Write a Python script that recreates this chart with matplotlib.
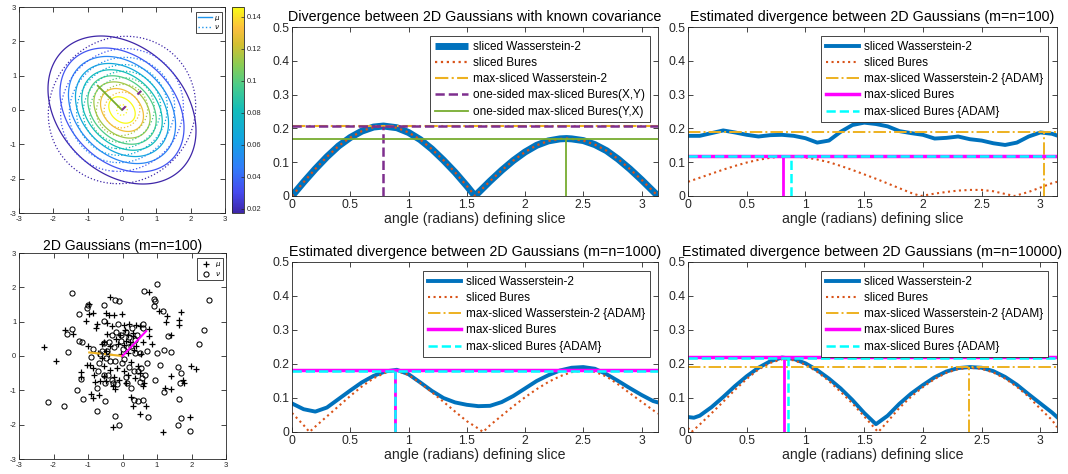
import numpy as np
import matplotlib
matplotlib.use("Agg")
import matplotlib.pyplot as plt
from matplotlib.colors import LinearSegmentedColormap, Normalize
from matplotlib.lines import Line2D
from matplotlib.ticker import FuncFormatter

plt.rcParams['font.family'] = ['Liberation Sans', 'DejaVu Sans']
plt.rcParams['axes.unicode_minus'] = False

PI = np.pi

# ---------------- data ----------------
# known covariance panel
theta_k = [0, 0.1, 0.2, 0.3, 0.4, 0.5, 0.6, 0.7, 0.785, 0.9, 1.0, 1.1, 1.2, 1.3, 1.4, 1.5, 1.571,
           1.6, 1.7, 1.8, 1.9, 2.0, 2.1, 2.2, 2.3, 2.356, 2.4, 2.5, 2.6, 2.7, 2.8, 2.9, 3.0, 3.1, 3.1416]
sw2_k = [0, 0.041, 0.080, 0.116, 0.148, 0.173, 0.192, 0.204, 0.207, 0.202, 0.188, 0.167, 0.139, 0.106,
         0.070, 0.030, 0, 0.010, 0.044, 0.076, 0.105, 0.130, 0.150, 0.163, 0.169, 0.170, 0.169, 0.164,
         0.152, 0.134, 0.109, 0.080, 0.048, 0.014, 0]
sb_k = list(sw2_k)
msw2_k = 0.207
osXY_angle, osXY_val = 0.785, 0.207
osYX_angle, osYX_val = 2.356, 0.170

# m=n=100
theta_g = [0, 0.1, 0.2, 0.3, 0.4, 0.5, 0.6, 0.7, 0.8, 0.9, 1.0, 1.1, 1.2, 1.3, 1.4, 1.5, 1.6,
           1.7, 1.8, 1.9, 2.0, 2.1, 2.2, 2.3, 2.4, 2.5, 2.6, 2.7, 2.8, 2.9, 3.0, 3.1, 3.1416]
sw2_100 = [0.178, 0.178, 0.186, 0.194, 0.188, 0.181, 0.176, 0.180, 0.181, 0.178, 0.171, 0.158, 0.164,
           0.190, 0.210, 0.217, 0.213, 0.206, 0.192, 0.186, 0.181, 0.170, 0.172, 0.176, 0.168, 0.164,
           0.156, 0.151, 0.158, 0.176, 0.188, 0.184, 0.179]
theta_sb100 = [0, 0.1, 0.2, 0.3, 0.4, 0.5, 0.6, 0.7, 0.8, 0.9, 1.0, 1.1, 1.2, 1.3, 1.4, 1.5, 1.6, 1.7,
               1.8, 1.9, 1.98, 2.1, 2.2, 2.3, 2.4, 2.5, 2.6, 2.7, 2.78, 2.9, 3.0, 3.1, 3.1416]
sb_100 = [0.042, 0.054, 0.066, 0.078, 0.089, 0.099, 0.107, 0.113, 0.117, 0.117, 0.114, 0.108, 0.100,
          0.089, 0.077, 0.064, 0.051, 0.037, 0.023, 0.009, 0.0, 0.007, 0.012, 0.016, 0.018, 0.018,
          0.014, 0.006, 0.0, 0.012, 0.025, 0.038, 0.042]
msw2_100_angle, msw2_100_val = 3.035, 0.188
msb_100_angle, msb_100_val = 0.813, 0.118
msba_100_angle, msba_100_val = 0.880, 0.117

# m=n=1000
sw2_1000 = [0.084, 0.067, 0.060, 0.072, 0.097, 0.122, 0.146, 0.165, 0.178, 0.183, 0.170, 0.146, 0.121,
            0.100, 0.087, 0.080, 0.076, 0.077, 0.088, 0.106, 0.128, 0.150, 0.167, 0.181, 0.189, 0.191,
            0.186, 0.170, 0.150, 0.129, 0.109, 0.091, 0.087]
theta_sb1000 = [0, 0.1, 0.15, 0.2, 0.3, 0.4, 0.5, 0.6, 0.7, 0.8, 0.9, 1.0, 1.1, 1.2, 1.3, 1.4, 1.5, 1.6,
                1.64, 1.7, 1.8, 1.9, 2.0, 2.1, 2.2, 2.3, 2.4, 2.5, 2.6, 2.7, 2.8, 2.9, 3.0, 3.1, 3.1416]
sb_1000 = [0.056, 0.020, 0.0, 0.016, 0.046, 0.076, 0.106, 0.134, 0.158, 0.174, 0.180, 0.168, 0.144,
           0.117, 0.089, 0.060, 0.032, 0.010, 0.0, 0.020, 0.048, 0.076, 0.102, 0.126, 0.147, 0.164,
           0.176, 0.181, 0.177, 0.163, 0.140, 0.114, 0.089, 0.064, 0.054]
msw2_1000_angle, msw2_1000_val = 0.885, 0.183
msb_1000_angle, msb_1000_val = 0.887, 0.181
msba_1000_angle, msba_1000_val = 0.888, 0.180

# m=n=10000
theta_sw10000 = [0, 0.05, 0.1, 0.2, 0.3, 0.4, 0.5, 0.6, 0.7, 0.8, 0.9, 1.0, 1.1, 1.2, 1.3, 1.4, 1.5, 1.6,
                 1.7, 1.8, 1.9, 2.0, 2.1, 2.2, 2.3, 2.4, 2.5, 2.6, 2.7, 2.8, 2.9, 3.0, 3.1, 3.1416]
sw2_10000 = [0.044, 0.042, 0.048, 0.073, 0.103, 0.135, 0.164, 0.189, 0.208, 0.219, 0.215, 0.202, 0.182,
             0.157, 0.128, 0.094, 0.056, 0.023, 0.048, 0.083, 0.113, 0.138, 0.161, 0.178, 0.188, 0.191,
             0.189, 0.179, 0.162, 0.139, 0.111, 0.084, 0.057, 0.044]
theta_sb10000 = [0, 0.03, 0.1, 0.2, 0.3, 0.4, 0.5, 0.6, 0.7, 0.8, 0.9, 1.0, 1.1, 1.2, 1.3, 1.4, 1.5, 1.6,
                 1.62, 1.7, 1.8, 1.9, 2.0, 2.1, 2.2, 2.3, 2.4, 2.5, 2.6, 2.7, 2.8, 2.9, 3.0, 3.1, 3.1416]
sb_10000 = [0.012, 0.0, 0.022, 0.055, 0.089, 0.124, 0.156, 0.184, 0.203, 0.214, 0.211, 0.198, 0.177,
            0.150, 0.118, 0.084, 0.046, 0.007, 0.0, 0.031, 0.071, 0.104, 0.132, 0.156, 0.174, 0.185,
            0.189, 0.186, 0.175, 0.157, 0.133, 0.104, 0.068, 0.035, 0.014]
msw2_10000_angle, msw2_10000_val = 2.393, 0.190
msb_10000_angle, msb_10000_val = 0.814, 0.2195
msba_10000_angle, msba_10000_val = 0.851, 0.219

# Gaussian parameters for the contour panel
mu_mean = [0.0, 0.0]
mu_cov = [[1.06, -0.30], [-0.30, 1.06]]
nu_mean = [0.0, 0.0]
nu_cov = [[1.08, 0.06], [0.06, 1.08]]
contour_levels = [0.0175, 0.0336, 0.0497, 0.0658, 0.0819, 0.0980, 0.1141, 0.1302, 0.1460]
colorbar_ticks = [0.02, 0.04, 0.06, 0.08, 0.1, 0.12, 0.14]

# samples (m=n=100)
plus_pts = [(-2.27, 0.25), (-1.93, -0.16), (-1.67, 0.75), (-1.43, 0.64), (-1.19, -0.47), (-1.20, -0.62),
            (-1.06, 1.01), (-0.96, 1.52), (-0.98, 1.22), (-0.86, 1.25), (-0.75, 0.93), (-0.76, 0.82),
            (-1.01, 0.30), (-0.94, -0.25), (-1.04, -0.27), (-0.82, -0.54), (-0.65, -0.74), (-0.80, -0.76),
            (-0.92, -1.11), (-0.86, -1.22), (-0.69, -1.13), (-0.48, 1.25), (-0.37, 1.71), (-0.39, 1.20),
            (-0.26, 1.20), (-0.02, 1.22), (-0.30, 0.86), (-0.44, 0.64), (-0.59, 0.35), (-0.53, 0.41),
            (-0.48, 0.14), (-0.36, -0.40), (-0.54, -0.59), (-0.48, -0.74), (-0.27, -0.88), (-0.22, -0.95),
            (-0.27, -2.08), (-0.07, 0.60), (0.04, 0.89), (0.17, 0.62), (0.20, 0.93), (0.07, 0.77),
            (0.31, 0.57), (0.39, 0.91), (0.51, 0.86), (0.76, 0.78), (0.78, 0.57), (0.85, 0.35),
            (0.33, 0.18), (0.04, 0.33), (0.24, -0.17), (0.36, -0.64), (0.24, -1.20), (0.31, -1.47),
            (0.51, -1.69), (0.68, -1.47), (0.60, -0.88), (0.77, 1.86), (1.07, 1.30), (1.30, 1.16),
            (1.25, 0.99), (1.40, 0.62), (1.63, 1.06), (1.65, 0.89), (1.71, 1.28), (1.99, -0.30),
            (2.13, -0.38), (1.74, -0.71), (1.78, -0.79), (1.40, -0.59), (1.23, -0.93), (1.40, -0.95),
            (1.96, -1.79), (1.18, -2.21), (-0.12, 0.35), (0.10, 0.45), (0.22, 0.40), (0.30, 0.68),
            (-0.20, 0.50), (-0.05, 0.05), (0.15, 0.10), (-0.15, -0.35), (0.05, -0.45), (-0.40, 0.05),
            (-0.60, -0.05), (-0.70, 0.10), (0.45, -0.30), (0.55, 0.05), (-0.25, -0.60), (0.10, -0.80),
            (-0.85, -0.35), (0.60, 0.40), (-0.35, 0.30), (0.40, 0.30), (-0.55, -0.30), (0.15, -0.55),
            (-0.10, -0.70), (0.50, -0.50), (-0.45, 0.95), (0.62, -0.80)]
circ_pts = [(-2.17, -1.35), (-1.70, -1.45), (-1.45, 1.83), (-1.47, 0.78), (-1.61, 0.64), (-1.59, 0.12),
            (-1.31, -0.98), (-1.25, 0.43), (-1.16, 0.41), (-1.25, 1.22), (-1.02, 1.40), (-1.00, 1.50),
            (-1.21, -0.66), (-1.15, -1.24), (-0.91, -0.04), (-0.85, 0.21), (-0.75, -1.59), (-0.75, -0.93),
            (-0.67, -0.20), (-0.54, 1.50), (-0.54, 1.03), (-0.54, -0.54), (-0.51, -0.79), (-0.51, -1.30),
            (-0.46, 0.16), (-0.22, 1.62), (-0.09, 1.61), (-0.21, -1.76), (-0.10, -2.02), (-0.27, -0.79),
            (-0.17, -0.83), (-0.22, -0.16), (-0.02, -0.20), (0.12, -0.79), (0.20, -0.33), (0.24, -0.93),
            (0.33, -1.28), (0.46, -1.32), (0.58, -1.29), (0.55, -0.35), (0.56, -0.64), (0.70, -0.20),
            (0.73, -1.79), (0.60, 0.93), (0.62, 1.90), (0.91, 1.67), (0.94, 1.59), (0.91, 1.45),
            (1.01, 2.10), (1.16, 1.31), (1.33, 0.57), (1.01, 0.09), (1.20, 0.18), (1.40, 0.12),
            (1.10, -0.25), (0.94, -0.69), (1.20, -1.05), (1.62, -0.33), (1.71, -0.50), (1.66, -0.79),
            (1.63, -1.25), (1.71, -1.81), (1.62, -2.02), (1.97, -2.17), (2.23, 0.35), (2.36, 0.77),
            (2.52, 1.64), (0.70, 0.14), (0.51, 0.09), (-0.30, 0.60), (-0.18, 0.70), (-0.05, 0.62),
            (0.10, 0.70), (0.20, 0.55), (0.35, 0.48), (-0.40, 0.40), (-0.25, 0.25), (0.00, 0.20),
            (0.15, 0.25), (-0.55, 0.38), (-0.48, -0.05), (-0.35, -0.15), (0.42, 0.62), (0.28, 0.82),
            (-0.12, 0.92), (0.50, -0.75), (0.45, -0.45), (-0.30, -0.70), (-0.42, -0.55), (0.05, -0.10),
            (-0.70, -0.45), (0.65, -0.55), (0.35, 0.10), (-0.05, 0.45), (0.25, 0.30), (-0.60, 0.15),
            (0.10, -0.60), (-0.65, 0.05), (0.58, 0.82), (0.32, -0.45)]

# ---------------- style ----------------
C_BLUE = (0.0, 0.447, 0.741)
C_ORANGE = (0.850, 0.325, 0.098)
C_YELLOW = (0.929, 0.694, 0.125)
C_PURPLE = (0.494, 0.184, 0.556)
C_GREEN = (0.466, 0.674, 0.188)
C_MAG = (1.0, 0.0, 1.0)
C_CYAN = (0.0, 1.0, 1.0)
AXC = (0.15, 0.15, 0.15)

parula = LinearSegmentedColormap.from_list('parula', [
    (0.00, (0.2422, 0.1504, 0.6603)),
    (0.10, (0.2770, 0.2900, 0.9350)),
    (0.22, (0.1900, 0.4900, 0.9800)),
    (0.35, (0.0700, 0.6400, 0.8900)),
    (0.50, (0.0700, 0.7400, 0.7300)),
    (0.62, (0.2900, 0.8000, 0.5400)),
    (0.72, (0.5400, 0.8000, 0.3300)),
    (0.82, (0.8300, 0.7500, 0.1900)),
    (0.90, (0.9900, 0.7500, 0.2400)),
    (1.00, (0.9769, 0.9839, 0.0805)),
])

W, H = 1068, 474
fig = plt.figure(figsize=(W / 100, H / 100), dpi=100)


def rect(l, r, t, b):
    return [l / W, 1 - b / H, (r - l) / W, (b - t) / H]


def style_axes(ax, fs):
    for s in ax.spines.values():
        s.set_color(AXC)
        s.set_linewidth(0.6)
    ax.tick_params(direction='in', top=True, right=True, length=3.5, width=0.6,
                   colors=AXC, labelsize=fs, pad=2)


gfmt = FuncFormatter(lambda v, p: '%g' % round(v, 6))

# ---------------- contour panel ----------------
axc = fig.add_axes(rect(19, 225, 7, 213))
gx = np.linspace(-3, 3, 301)
GX, GY = np.meshgrid(gx, gx)


def gauss(mean, cov):
    cov = np.asarray(cov)
    inv = np.linalg.inv(cov)
    dx = GX - mean[0]
    dy = GY - mean[1]
    q = inv[0, 0] * dx * dx + 2 * inv[0, 1] * dx * dy + inv[1, 1] * dy * dy
    return np.exp(-0.5 * q) / (2 * np.pi * np.sqrt(np.linalg.det(cov)))


norm = Normalize(vmin=contour_levels[0], vmax=contour_levels[-1])
axc.contour(GX, GY, gauss(mu_mean, mu_cov), levels=contour_levels, cmap=parula, norm=norm,
            linewidths=0.9, linestyles='solid')
axc.contour(GX, GY, gauss(nu_mean, nu_cov), levels=contour_levels, cmap=parula, norm=norm,
            linewidths=0.9, linestyles=':')
axc.plot([0, np.cos(osYX_angle)], [0, np.sin(osYX_angle)], color=C_GREEN, lw=1.3)
axc.plot([0, np.cos(osXY_angle)], [0, np.sin(osXY_angle)], color=C_PURPLE, lw=1.5,
         dashes=(2.5, 8))
axc.set_xlim(-3, 3)
axc.set_ylim(-3, 3)
axc.set_xticks(range(-3, 4))
axc.set_yticks(range(-3, 4))
style_axes(axc, 5.5)
h_mu = Line2D([], [], color=parula(0.3), lw=1.0, ls='-')
h_nu = Line2D([], [], color=parula(0.3), lw=1.0, ls=':')
lg = axc.legend([h_mu, h_nu], [r'$\mu$', r'$\nu$'], loc='upper right', bbox_to_anchor=(0.985, 0.976),
                borderaxespad=0, fontsize=5, handlelength=2.0, handletextpad=0.3, labelspacing=0.1,
                borderpad=0.25, fancybox=False, framealpha=1)
lg.get_frame().set_edgecolor(AXC)
lg.get_frame().set_linewidth(0.6)

# colorbar
cax = fig.add_axes(rect(232, 244, 7, 213))
sm = matplotlib.cm.ScalarMappable(norm=norm, cmap=parula)
cb = fig.colorbar(sm, cax=cax)
cb.set_ticks(colorbar_ticks)
cb.ax.yaxis.set_major_formatter(gfmt)
cb.ax.tick_params(direction='in', length=2.5, width=0.5, labelsize=5.5, colors=AXC, pad=2)
cb.outline.set_edgecolor(AXC)
cb.outline.set_linewidth(0.6)

# ---------------- scatter panel ----------------
axs = fig.add_axes(rect(19, 226, 253, 459))
px = [p[0] for p in plus_pts]
py = [p[1] for p in plus_pts]
cx = [p[0] for p in circ_pts]
cy = [p[1] for p in circ_pts]
axs.plot(px, py, '+', color='k', ms=4.0, mew=0.9, ls='none', label=r'$\mu$')
axs.plot(cx, cy, 'o', mfc='none', mec='k', ms=3.7, mew=0.75, ls='none', label=r'$\nu$')
axs.plot([0, np.cos(msw2_100_angle)], [0, np.sin(msw2_100_angle)], color=C_YELLOW, lw=1.5, ls='-.')
axs.plot([0, np.cos(msb_100_angle)], [0, np.sin(msb_100_angle)], color=C_MAG, lw=1.5)
axs.set_xlim(-3, 3)
axs.set_ylim(-3, 3)
axs.set_xticks(range(-3, 4))
axs.set_yticks(range(-3, 4))
style_axes(axs, 5.5)
axs.set_title('2D Gaussians (m=n=100)', fontsize=10, pad=2, color='k')
lg = axs.legend(loc='upper right', bbox_to_anchor=(0.985, 0.976), borderaxespad=0, fontsize=5,
                handlelength=1.8, handletextpad=0.4, labelspacing=0.15, borderpad=0.3,
                fancybox=False, framealpha=1)
lg.get_frame().set_edgecolor(AXC)
lg.get_frame().set_linewidth(0.6)


# ---------------- line panels ----------------
def setup_line_axes(ax, title):
    ax.set_xlim(0, PI)
    ax.set_ylim(0, 0.5)
    ax.set_xticks([0, 0.5, 1, 1.5, 2, 2.5, 3])
    ax.set_yticks([0, 0.1, 0.2, 0.3, 0.4, 0.5])
    ax.xaxis.set_major_formatter(gfmt)
    ax.yaxis.set_major_formatter(gfmt)
    style_axes(ax, 8.7)
    ax.set_title(title, fontsize=10.3, pad=4, color='k')
    ax.set_xlabel('angle (radians) defining slice', fontsize=10.2, labelpad=1, color=AXC)


def add_legend(ax, right):
    lg = ax.legend(loc='upper right', bbox_to_anchor=(right, 0.947), borderaxespad=0, fontsize=8.5,
                   handlelength=2.8, handletextpad=0.45, labelspacing=0.36, borderpad=0.4,
                   fancybox=False, framealpha=1)
    lg.get_frame().set_edgecolor(AXC)
    lg.get_frame().set_linewidth(0.6)


# Known covariance
ax1 = fig.add_axes(rect(292, 658, 27, 196))
ax1.plot(theta_k, sw2_k, color=C_BLUE, lw=5, label='sliced Wasserstein-2', solid_capstyle='butt')
ax1.plot(theta_k, sb_k, color=C_ORANGE, lw=1.6, ls=':', label='sliced Bures')
ax1.axhline(msw2_k, color=C_YELLOW, lw=1.5, ls='-.', label='max-sliced Wasserstein-2')
ax1.axhline(osXY_val, color=C_PURPLE, lw=1.8, ls='--', label='one-sided max-sliced Bures(X,Y)')
ax1.vlines(osXY_angle, 0, osXY_val, color=C_PURPLE, lw=1.8, ls='--')
ax1.axhline(osYX_val, color=C_GREEN, lw=1.3, label='one-sided max-sliced Bures(Y,X)')
ax1.vlines(osYX_angle, 0, osYX_val, color=C_GREEN, lw=1.3)
setup_line_axes(ax1, 'Divergence between 2D Gaussians with known covariance')
add_legend(ax1, 0.978)


def estimated_panel(r, title, th_sw, sw, th_sb, sb, msw, msb, msba, right):
    ax = fig.add_axes(r)
    ax.plot(th_sw, sw, color=C_BLUE, lw=2.8, label='sliced Wasserstein-2')
    ax.plot(th_sb, sb, color=C_ORANGE, lw=1.5, ls=':', label='sliced Bures')
    ax.axhline(msw[1], color=C_YELLOW, lw=1.4, ls='-.', label='max-sliced Wasserstein-2 {ADAM}')
    ax.vlines(msw[0], 0, msw[1], color=C_YELLOW, lw=1.4, ls='-.')
    ax.axhline(msb[1], color=C_MAG, lw=2.5, label='max-sliced Bures')
    ax.vlines(msb[0], 0, msb[1], color=C_MAG, lw=2.0)
    ax.axhline(msba[1], color=C_CYAN, lw=1.8, ls='--', label='max-sliced Bures {ADAM}')
    ax.vlines(msba[0], 0, msba[1], color=C_CYAN, lw=1.8, ls='--')
    setup_line_axes(ax, title)
    add_legend(ax, right)
    return ax


estimated_panel(rect(688, 1057, 27, 196), 'Estimated divergence between 2D Gaussians (m=n=100)',
                theta_g, sw2_100, theta_sb100, sb_100,
                (msw2_100_angle, msw2_100_val), (msb_100_angle, msb_100_val),
                (msba_100_angle, msba_100_val), 0.9756)
estimated_panel(rect(292, 658, 262, 432), 'Estimated divergence between 2D Gaussians (m=n=1000)',
                theta_g, sw2_1000, theta_sb1000, sb_1000,
                (msw2_1000_angle, msw2_1000_val), (msb_1000_angle, msb_1000_val),
                (msba_1000_angle, msba_1000_val), 0.978)
estimated_panel(rect(688, 1057, 262, 432), 'Estimated divergence between 2D Gaussians (m=n=10000)',
                theta_sw10000, sw2_10000, theta_sb10000, sb_10000,
                (msw2_10000_angle, msw2_10000_val), (msb_10000_angle, msb_10000_val),
                (msba_10000_angle, msba_10000_val), 0.9756)

fig.savefig('out.png', dpi=100)
